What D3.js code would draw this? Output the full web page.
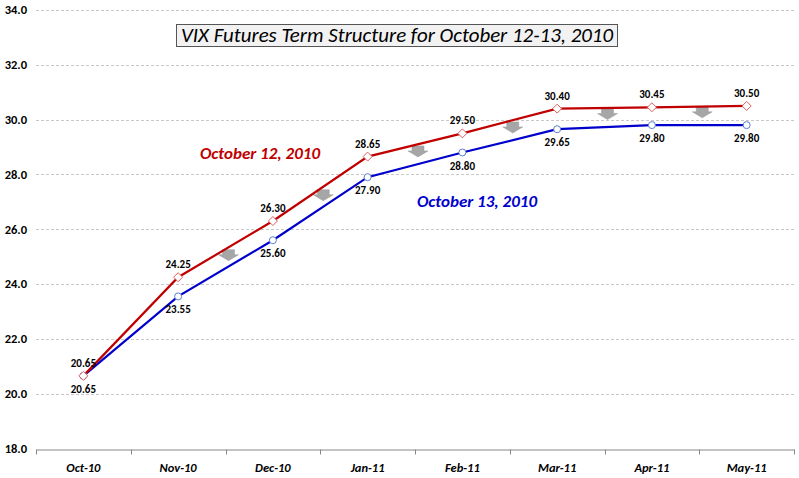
<!DOCTYPE html>
<html><head><meta charset="utf-8">
<script src="https://cdn.jsdelivr.net/npm/d3@7"></script>
<style>
body{margin:0;background:#fff;}
svg{display:block;font-family:Carlito,Lato,"Open Sans",sans-serif;}
</style></head>
<body><svg id="c" width="799" height="478"></svg>
<script>
const categories = ["Oct-10","Nov-10","Dec-10","Jan-11","Feb-11","Mar-11","Apr-11","May-11"];
const oct12 = [20.65,24.25,26.30,28.65,29.50,30.40,30.45,30.50];
const oct13 = [20.65,23.55,25.60,27.90,28.80,29.65,29.80,29.80];
const yTicks = [18,20,22,24,26,28,30,32,34];
const titleText = "VIX Futures Term Structure for October 12-13, 2010";
const label12 = "October 12, 2010";
const label13 = "October 13, 2010";

const svg = d3.select("#c");
const x = d3.scaleBand().domain(categories).range([36, 794]);
const y = d3.scaleLinear().domain([18, 34]).range([448.5, 10]);
const cx = d => x(d) + x.bandwidth()/2;

// gridlines
svg.append("g").selectAll("line").data(yTicks.filter(t => t > 18)).join("line")
  .attr("x1", 36).attr("x2", 794)
  .attr("y1", d => Math.round(y(d)) + 0.5).attr("y2", d => Math.round(y(d)) + 0.5)
  .attr("stroke", "#c8c8c8").attr("stroke-width", 1).attr("stroke-dasharray", "3,2");

// y labels
svg.append("g").selectAll("text").data(yTicks).join("text")
  .attr("x", 27).attr("y", d => y(d)).attr("dy", "0.35em")
  .attr("text-anchor", "end").attr("font-size", 12.5).attr("font-weight", "bold")
  .attr("fill", "#000").text(d => d.toFixed(1));

// x axis
const xAxis = d3.axisBottom(x).tickSize(0).tickFormat("");
const gx = svg.append("g").attr("transform", `translate(0,${Math.round(y(18)) + 0.5})`).call(xAxis);
gx.select(".domain").attr("stroke", "#888");
const bounds = d3.range(categories.length + 1).map(i => 36 + i * x.step());
gx.selectAll(".bt").data(bounds).join("line").attr("class", "bt")
  .attr("x1", d => Math.round(d) + 0.5).attr("x2", d => Math.round(d) + 0.5)
  .attr("y1", 0).attr("y2", 5).attr("stroke", "#888");
svg.append("g").selectAll("text").data(categories).join("text")
  .attr("x", d => cx(d)).attr("y", 472)
  .attr("text-anchor", "middle").attr("font-size", 12.5).attr("font-weight", "bold")
  .attr("font-style", "italic").text(d => d);

// arrows between series at band boundaries
const arrowData = d3.range(1, categories.length - 1).map(i => {
  const mid = (oct12[i] + oct12[i+1] + oct13[i] + oct13[i+1]) / 4;
  return { x: 36 + (i + 1) * x.step() + 3, y: y(mid) - 3 };
});
svg.append("g").selectAll("path").data(arrowData).join("path")
  .attr("d", d => `M${d.x-6},${d.y-6} L${d.x+6},${d.y-6} L${d.x+6},${d.y-1} L${d.x+10},${d.y-1} L${d.x},${d.y+5} L${d.x-10},${d.y-1} L${d.x-6},${d.y-1} Z`)
  .attr("fill", "#a6a6a6").attr("stroke", "#9a9a9a").attr("stroke-width", 0.5);

// lines
const line = d3.line().x((d, i) => cx(categories[i])).y(d => y(d));
svg.append("path").datum(oct13).attr("d", line).attr("fill", "none").attr("stroke", "#0000cc").attr("stroke-width", 2.2);
svg.append("path").datum(oct12).attr("d", line).attr("fill", "none").attr("stroke", "#c00000").attr("stroke-width", 2.2);

// markers
svg.append("g").selectAll("circle").data(oct13).join("circle")
  .attr("cx", (d, i) => cx(categories[i])).attr("cy", d => y(d)).attr("r", 3.5)
  .attr("fill", "#fff").attr("stroke", "#5b7fd0").attr("stroke-width", 1);
svg.append("g").selectAll("path").data(oct12).join("path")
  .attr("d", (d, i) => { const px = cx(categories[i]), py = y(d); return `M${px},${py-4.5} L${px+4.5},${py} L${px},${py+4.5} L${px-4.5},${py} Z`; })
  .attr("fill", "#fff").attr("stroke", "#e06060").attr("stroke-width", 1);

// data labels
svg.append("g").selectAll("text").data(oct12).join("text")
  .attr("x", (d, i) => cx(categories[i])).attr("y", d => y(d) - 9)
  .attr("text-anchor", "middle").attr("font-size", 11).attr("font-weight", "bold")
  .text(d => d.toFixed(2));
svg.append("g").selectAll("text").data(oct13).join("text")
  .attr("x", (d, i) => cx(categories[i])).attr("y", d => y(d) + 17)
  .attr("text-anchor", "middle").attr("font-size", 11).attr("font-weight", "bold")
  .text(d => d.toFixed(2));

// series labels
svg.append("text").attr("x", 260).attr("y", 159).attr("text-anchor", "middle")
  .attr("font-size", 17).attr("font-weight", "bold").attr("font-style", "italic")
  .attr("fill", "#c00000").text(label12);
svg.append("text").attr("x", 477).attr("y", 207).attr("text-anchor", "middle")
  .attr("font-size", 17).attr("font-weight", "bold").attr("font-style", "italic")
  .attr("fill", "#0000cc").text(label13);

// title
svg.append("rect").attr("x", 176.5).attr("y", 24.5).attr("width", 441).attr("height", 22)
  .attr("fill", "#f2f2f2").attr("stroke", "#555").attr("stroke-width", 1);
svg.append("text").attr("x", 397).attr("y", 42).attr("text-anchor", "middle")
  .attr("font-size", 20).attr("font-style", "italic").attr("font-weight", 500)
  .attr("textLength", 432).attr("lengthAdjust", "spacingAndGlyphs")
  .attr("fill", "#000").text(titleText);
</script></body></html>
